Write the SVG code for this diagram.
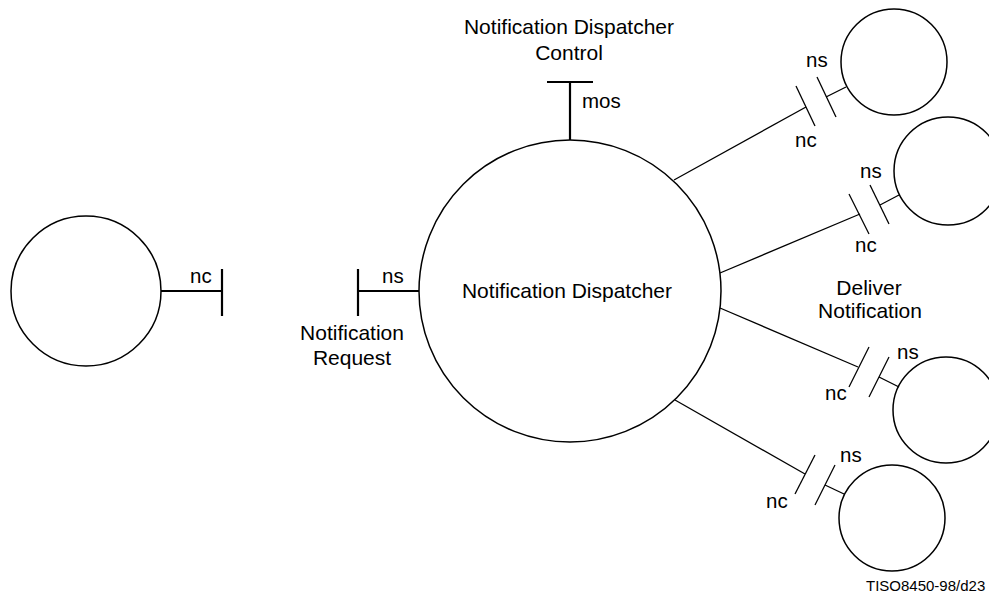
<svg xmlns="http://www.w3.org/2000/svg" width="989" height="594" viewBox="0 0 989 594">
<style>
.n{fill:none;stroke:#000;stroke-width:1.5}
.c line{stroke:#000;stroke-width:1.3}
.t line{stroke:#000;stroke-width:2.2}
text{font-family:"Liberation Sans",Arial,sans-serif;font-size:20.5px;fill:#000}
.m{text-anchor:middle}
.w{font-size:21px}
</style>
<rect width="989" height="594" fill="#fff"/>
<g id="dispatcher">
<circle class="n" cx="570" cy="291" r="151"/>
<text class="m w" x="567" y="298">Notification Dispatcher</text>
</g>
<g id="client">
<circle class="n" cx="86" cy="291" r="75"/>
</g>
<g id="target1"><circle class="n" cx="894" cy="62" r="53"/></g>
<g id="target2"><circle class="n" cx="948" cy="171" r="54"/></g>
<g id="target3"><circle class="n" cx="946" cy="410" r="53"/></g>
<g id="target4"><circle class="n" cx="892" cy="518" r="53"/></g>
<g id="connectors">
<g class="t">
<line x1="161" y1="291" x2="222" y2="291"/>
<line x1="222" y1="269" x2="222" y2="316"/>
<line x1="358" y1="291" x2="419" y2="291"/>
<line x1="358" y1="269" x2="358" y2="316"/>
<line x1="570" y1="82" x2="570" y2="140"/>
<line x1="547" y1="82" x2="593" y2="82"/>
</g>
<g class="c">
<line x1="674" y1="180" x2="806" y2="107"/>
<line x1="796" y1="86" x2="815" y2="126"/>
<line x1="817" y1="77" x2="836" y2="117"/>
<line x1="826" y1="97" x2="846" y2="87"/>
<line x1="720" y1="273" x2="860" y2="214"/>
<line x1="849" y1="194" x2="869" y2="234"/>
<line x1="870" y1="185" x2="889" y2="224"/>
<line x1="880" y1="205" x2="899" y2="195"/>
<line x1="720" y1="308" x2="858" y2="367"/>
<line x1="869" y1="347" x2="849" y2="387"/>
<line x1="889" y1="357" x2="869" y2="397"/>
<line x1="879" y1="377" x2="899" y2="387"/>
<line x1="675" y1="400" x2="805" y2="474"/>
<line x1="815" y1="455" x2="795" y2="494"/>
<line x1="835" y1="465" x2="815" y2="505"/>
<line x1="825" y1="485" x2="844" y2="494"/>
</g>
</g>
<g id="labels">
<text x="190" y="283">nc</text>
<text x="382" y="283">ns</text>
<text class="m w" x="352" y="340">Notification</text>
<text class="m w" x="352" y="365">Request</text>
<text class="m w" x="569" y="34">Notification Dispatcher</text>
<text class="m w" x="569" y="60">Control</text>
<text x="582" y="108">mos</text>
<text x="806" y="67">ns</text>
<text x="795" y="147">nc</text>
<text x="860" y="178">ns</text>
<text x="855" y="252">nc</text>
<text class="m w" x="869" y="295">Deliver</text>
<text class="m w" x="870" y="318">Notification</text>
<text x="897" y="359">ns</text>
<text x="825" y="400">nc</text>
<text x="840" y="462">ns</text>
<text x="766" y="508">nc</text>
<text x="866" y="591" style="font-size:15px">TISO8450-98/d23</text>
</g>
</svg>
